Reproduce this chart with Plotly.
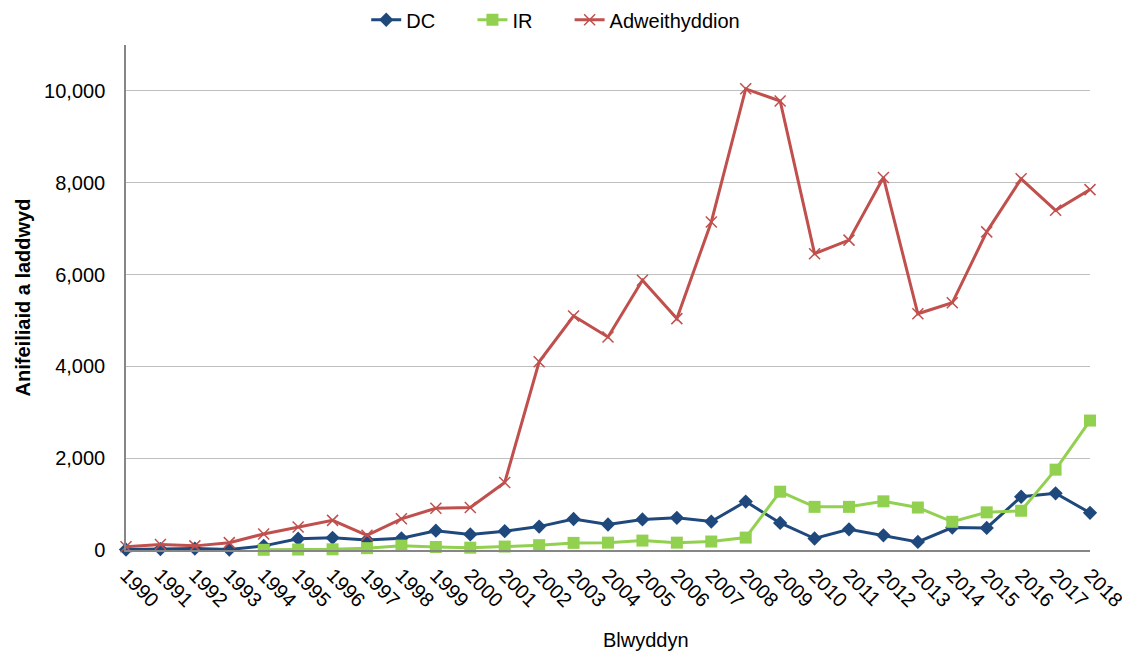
import plotly.graph_objects as go

# Data
years = list(range(1990, 2019))

dc = [10, 20, 30, 10, 90, 245, 265, 220, 255, 420, 340, 410, 510, 675,
      555, 665, 700, 620, 1055, 590, 250, 450, 320, 175, 490, 480, 1160, 1235, 810]

ir_years = list(range(1994, 2019))
ir = [5, 10, 15, 40, 95, 65, 50, 75, 105, 155,
      160, 205, 160, 185, 270, 1270, 940, 940, 1060, 925, 615, 820, 855, 1750, 2820]

adweith = [70, 120, 90, 160, 350, 500, 645, 320, 680, 910, 925, 1470, 4100, 5095,
           4640, 5875, 5040, 7145, 10045, 9780, 6455, 6750, 8115, 5145, 5385, 6930, 8085, 7400, 7850]

y_ticks = [0, 2000, 4000, 6000, 8000, 10000]

FONT = "Liberation Sans, Arial, sans-serif"

fig = go.Figure()

fig.add_trace(go.Scatter(
    x=years, y=dc, name="DC", mode="lines+markers", legend="legend",
    line=dict(color="#1F497D", width=3),
    marker=dict(symbol="diamond", size=11, color="#1F497D"),
    cliponaxis=False,
))
fig.add_trace(go.Scatter(
    x=ir_years, y=ir, name="IR", mode="lines+markers", legend="legend2",
    line=dict(color="#92D050", width=3),
    marker=dict(symbol="square", size=12, color="#92D050"),
    cliponaxis=False,
))
fig.add_trace(go.Scatter(
    x=years, y=adweith, name="Adweithyddion", mode="lines+markers", legend="legend3",
    line=dict(color="#C0504D", width=3),
    marker=dict(symbol="x-thin", size=11, line=dict(color="#C0504D", width=1.5)),
    cliponaxis=False,
))

# one small legend per series so the gaps between them follow the reference
def leg(x):
    return dict(
        orientation="h", xref="container", yref="container",
        x=x, xanchor="left", y=0.982, yanchor="middle",
        font=dict(size=20), bgcolor="rgba(0,0,0,0)",
    )

fig.update_layout(
    width=1130, height=653,
    paper_bgcolor="white", plot_bgcolor="white",
    margin=dict(l=118, r=48, t=37, b=111),
    font=dict(family=FONT, size=20, color="#000000"),
    legend=leg(0.317),
    legend2=leg(0.411),
    legend3=leg(0.497),
    showlegend=True,
)

# x axis title sits a little right of the plot centre in the original
fig.add_annotation(
    text="Blwyddyn", xref="paper", yref="paper", x=0.539, y=-0.178,
    xanchor="center", yanchor="middle", showarrow=False,
    font=dict(size=20),
)

fig.update_xaxes(
    range=[1990, 2018], tickmode="array", tickvals=years,
    ticktext=[str(y) for y in years], tickangle=45,
    showgrid=False, zeroline=False, automargin=False,
    showline=True, linecolor="#868686", linewidth=1.5,
    ticks="", tickfont=dict(size=20), ticklabelstandoff=4,
)

fig.update_yaxes(
    range=[0, 11000], tickmode="array", tickvals=y_ticks,
    ticktext=[f"{v:,}" for v in y_ticks],
    showgrid=True, gridcolor="#BFBFBF", gridwidth=1,
    zeroline=False, showline=True, linecolor="#868686", linewidth=1.5,
    ticks="", ticklen=0, tickfont=dict(size=20), automargin=False,
    ticklabelstandoff=15,
    title=dict(text="<b>Anifeiliaid a laddwyd</b>", font=dict(size=20), standoff=8),
)

fig.write_html("out.html")
